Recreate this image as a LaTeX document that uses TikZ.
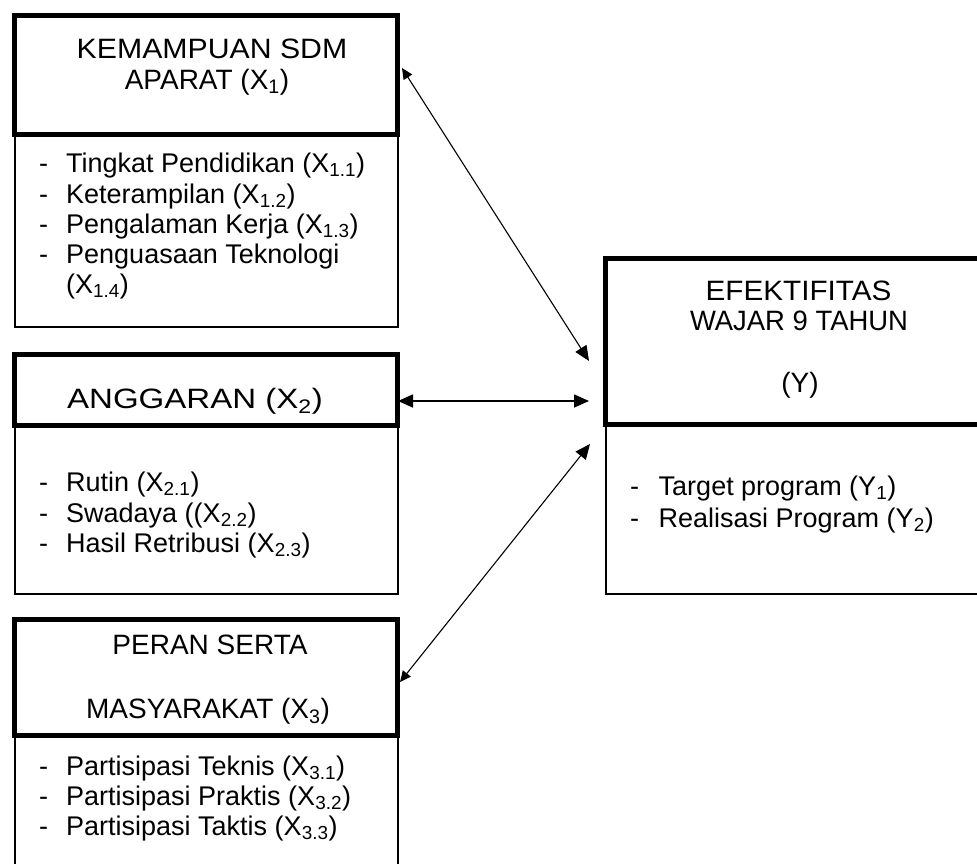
\documentclass[tikz,border=0pt]{standalone}
\usepackage{fontspec}
\setmainfont{Liberation Sans}
\usetikzlibrary{arrows.meta,fit}
\newcommand{\sbs}[1]{\textsubscript{#1}}
\newcommand{\wide}[2]{\scalebox{#1}[1]{#2}}
\begin{document}
\begin{tikzpicture}[x=1pt, y=-1pt,
	head/.style={draw, line width=5pt, inner sep=0pt},
	body/.style={draw, line width=2pt, inner sep=0pt},
	ttl/.style={font=\fontsize{28}{31}\selectfont, anchor=base, inner sep=0pt},
	lst/.style={font=\fontsize{27}{30}\selectfont, anchor=base west, inner sep=0pt},
	ylst/.style={font=\fontsize{27}{30}\selectfont, anchor=base west, inner sep=0pt},
	link/.style={arrows={Triangle[length=11pt,width=10pt]-Triangle[length=15pt,width=13pt]}, line width=1.1pt}]
	\path[use as bounding box] (0,0) rectangle (977,863);
	\clip (0,0) rectangle (977,863);
	% boxes
	\node[body, fit={(14.5,134.5) (397.5,326.5)}] (sdmbody) {};
	\node[head, fit={(14.5,15.5) (397.5,134.5)}] (sdmhead) {};
	\node[body, fit={(14.5,425) (397.5,593.5)}] (agbody) {};
	\node[head, fit={(14.5,354.5) (397.5,425)}] (aghead) {};
	\node[body, fit={(14.5,735.5) (397.5,880)}] (psbody) {};
	\node[head, fit={(14.5,619) (397.5,735.5)}] (pshead) {};
	\node[body, fit={(605.5,424.5) (990,593.5)}] (efbody) {};
	\node[head, fit={(605.5,258) (990,424.5)}] (efhead) {};
	% titles
	\node[ttl] (t1a) at (212,58) {\wide{1.08}{KEMAMPUAN SDM}};
	\node[ttl] (t1b) at (207,89) {APARAT (X\sbs{1})};
	\node[ttl] (t2) at (195,408) {\wide{1.18}{ANGGARAN (X\sbs{2})}};
	\node[ttl] (t3a) at (210,654) {PERAN SERTA};
	\node[ttl] (t3b) at (208,718) {MASYARAKAT (X\sbs{3})};
	\node[ttl] (tya) at (798.5,300) {\wide{1.06}{EFEKTIFITAS}};
	\node[ttl] (tyb) at (799,330) {\wide{0.98}{WAJAR 9 TAHUN}};
	\node[ttl] (tyc) at (800,392) {(Y)};
	% indicators
	\foreach \t/\y [count=\i] in {Tingkat Pendidikan (X\sbs{1.1})/172, Keterampilan (X\sbs{1.2})/203,
		Pengalaman Kerja (X\sbs{1.3})/233, Penguasaan Teknologi/263}{
		\node[lst] (d1\i) at (39,\y) {-};
		\node[lst] (i1\i) at (66,\y) {\t};
	}
	\node[lst] (i15) at (66,293) {(X\sbs{1.4})};
	\foreach \t/\y [count=\i] in {Rutin (X\sbs{2.1})/491, Swadaya ((X\sbs{2.2})/522, Hasil Retribusi (X\sbs{2.3})/552}{
		\node[lst] (d2\i) at (39,\y) {-};
		\node[lst] (i2\i) at (66,\y) {\t};
	}
	\foreach \t/\y [count=\i] in {Partisipasi Teknis (X\sbs{3.1})/775, Partisipasi Praktis (X\sbs{3.2})/805,
		Partisipasi Taktis (X\sbs{3.3})/835}{
		\node[lst] (d3\i) at (39,\y) {-};
		\node[lst] (i3\i) at (66,\y) {\t};
	}
	\foreach \t/\y [count=\i] in {Target program (Y\sbs{1})/495, Realisasi Program (Y\sbs{2})/527}{
		\node[ylst] (dy\i) at (630,\y) {-};
		\node[ylst] (iy\i) at (658.5,\y) {\t};
	}
	% links
	\path (402,68) coordinate (P1) (589,361) coordinate (Q1)
		(398,401) coordinate (P2) (589,401) coordinate (Q2)
		(400,682) coordinate (P3) (590,444) coordinate (Q3);
	\draw[link] (P1)--(Q1);
	\draw[link, line width=1.6pt, arrows={Triangle[length=15pt,width=13pt]-Triangle[length=15pt,width=13pt]}] (P2)--(Q2);
	\draw[link] (P3)--(Q3);
\end{tikzpicture}
\end{document}
